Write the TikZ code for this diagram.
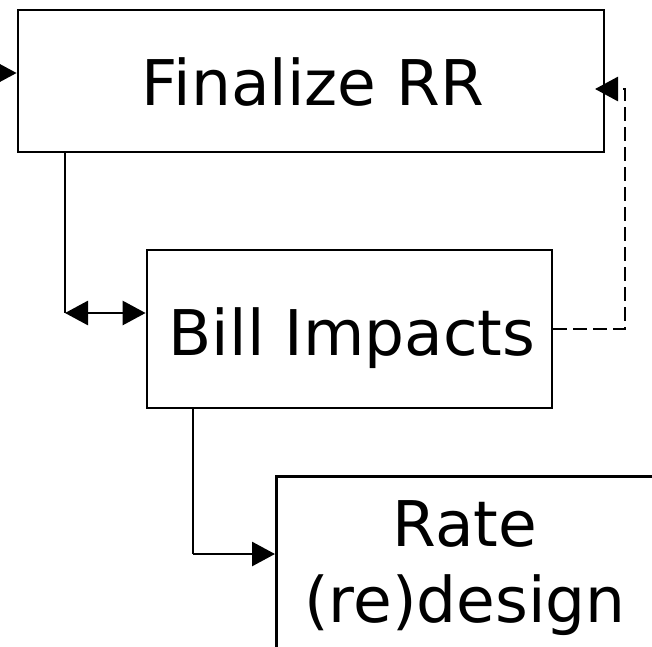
\documentclass[tikz,border=0pt]{standalone}
\usepackage{fontspec}
\setmainfont{DejaVu Sans}
\usetikzlibrary{arrows.meta}
\begin{document}
\begin{tikzpicture}[x=1pt,y=-1pt,
  box/.style={draw, line width=2.8pt, inner sep=0pt},
  lbl/.style={font=\fontsize{63}{76}\selectfont, inner sep=0pt, align=center},
  conn/.style={line width=2.8pt},
  tipend/.style={-{Triangle[length=23pt,width=24pt]}},
  tipboth/.style={{Triangle[length=23pt,width=24pt]}-{Triangle[length=23pt,width=24pt]}},
  dashline/.style={dash pattern=on 14pt off 6pt}]
\useasboundingbox (0,0) rectangle (652,646);
\clip (0,0) rectangle (652,646);
% boxes
\node[box, minimum width=586pt, minimum height=142pt] (fin) at (311,81) {};
\node[box, minimum width=405pt, minimum height=158pt] (bill) at (349.5,329) {};
\node[box, minimum width=390pt, minimum height=260pt, anchor=north west] (rate) at (275,475) {};
% labels
\node[lbl, anchor=base] (fintext) at (313,105) {Finalize RR};
\node[lbl, anchor=base] (billtext) at (352,355) {Bill Impacts};
\node[lbl, anchor=base] (ratetext) at (465,622) {Rate\\(re)design};
% connectors
\coordinate (start) at (0,73);
\draw[conn, tipend] (start) -- (fin.west |- start);
\coordinate (a1) at (65,313);
\draw[conn] (fin.south -| a1) -- (a1);
\draw[conn, tipboth] (a1) -- (bill.west |- a1);
\coordinate (b1) at (193,554);
\draw[conn] (bill.south -| b1) -- (b1);
\draw[conn, tipend] (b1) -- (rate.west |- b1);
\coordinate (d1) at (625,329);
\coordinate (d2) at (625,89);
\coordinate (d3) at (595,89);
\draw[conn, dashline, tipend] (bill.east) -- (d1) -- (d2) -- (d3);
\end{tikzpicture}
\end{document}
